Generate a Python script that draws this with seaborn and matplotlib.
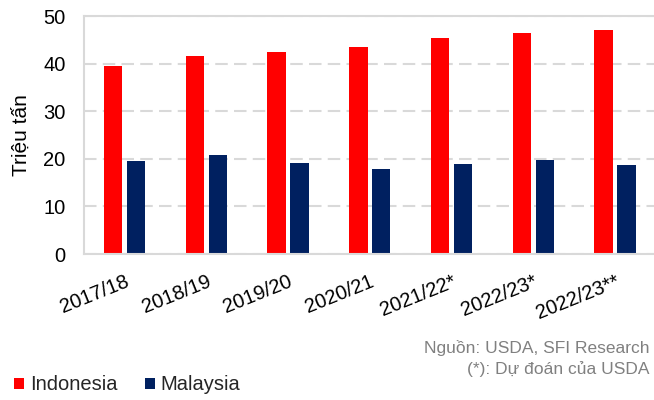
import pandas as pd
import matplotlib.pyplot as plt
import seaborn as sns

seasons = ['2017/18', '2018/19', '2019/20', '2020/21', '2021/22*', '2022/23*', '2022/23**']
indonesia = [39.5, 41.5, 42.5, 43.4, 45.4, 46.5, 47.1]
malaysia = [19.5, 20.7, 19.1, 17.8, 19.0, 19.7, 18.6]

df = pd.DataFrame({
    'season': seasons * 2,
    'value': indonesia + malaysia,
    'country': ['Indonesia'] * len(seasons) + ['Malaysia'] * len(seasons),
})

sns.set_theme(style='white')
plt.rcParams['font.family'] = ['Liberation Sans', 'DejaVu Sans']

fig = plt.figure(figsize=(6.54, 4.0), dpi=100)
ax = fig.add_axes([0.128, 0.365, 0.875, 0.595])

sns.barplot(data=df, x='season', y='value', hue='country', order=seasons,
            palette={'Indonesia': '#FF0000', 'Malaysia': '#002060'},
            saturation=1, width=0.56, gap=0.2, linewidth=0, ax=ax)

ax.set_ylim(0, 50)
ax.set_yticks(range(0, 51, 10))
ax.set_xlim(-0.5, len(seasons) - 0.5)
ax.yaxis.grid(True, color='#D9D9D9', linestyle=(0, (6, 3)), linewidth=1.5)
ax.set_axisbelow(True)
for side in ['top', 'left', 'bottom']:
    ax.spines[side].set_color('#D9D9D9')
    ax.spines[side].set_linewidth(1.5)
ax.spines['right'].set_visible(False)

ax.tick_params(axis='y', labelsize=14.5, pad=13, length=0, colors='black')
ax.tick_params(axis='x', labelsize=14.5, length=0, pad=13, colors='black')
plt.setp(ax.get_xticklabels(), rotation=22, ha='right', rotation_mode='anchor')
ax.set_xlabel('')
ax.set_ylabel('Triệu tấn', fontsize=15, color='black', labelpad=9)

handles, labels = ax.get_legend_handles_labels()
ax.get_legend().remove()
fig.legend(handles, labels, loc='center left', bbox_to_anchor=(0.021, 0.0375), ncol=2,
           frameon=False, fontsize=14.5, handlelength=0.5, handleheight=0.5,
           handletextpad=0.3, columnspacing=1.35, borderpad=0, borderaxespad=0)

fig.text(0.993, 0.13, 'Nguồn: USDA, SFI Research', ha='right', va='center',
         fontsize=12.5, color='#808080')
fig.text(0.993, 0.0775, '(*): Dự đoán của USDA', ha='right', va='center',
         fontsize=12.5, color='#808080')

fig.savefig('out.png', dpi=100)
